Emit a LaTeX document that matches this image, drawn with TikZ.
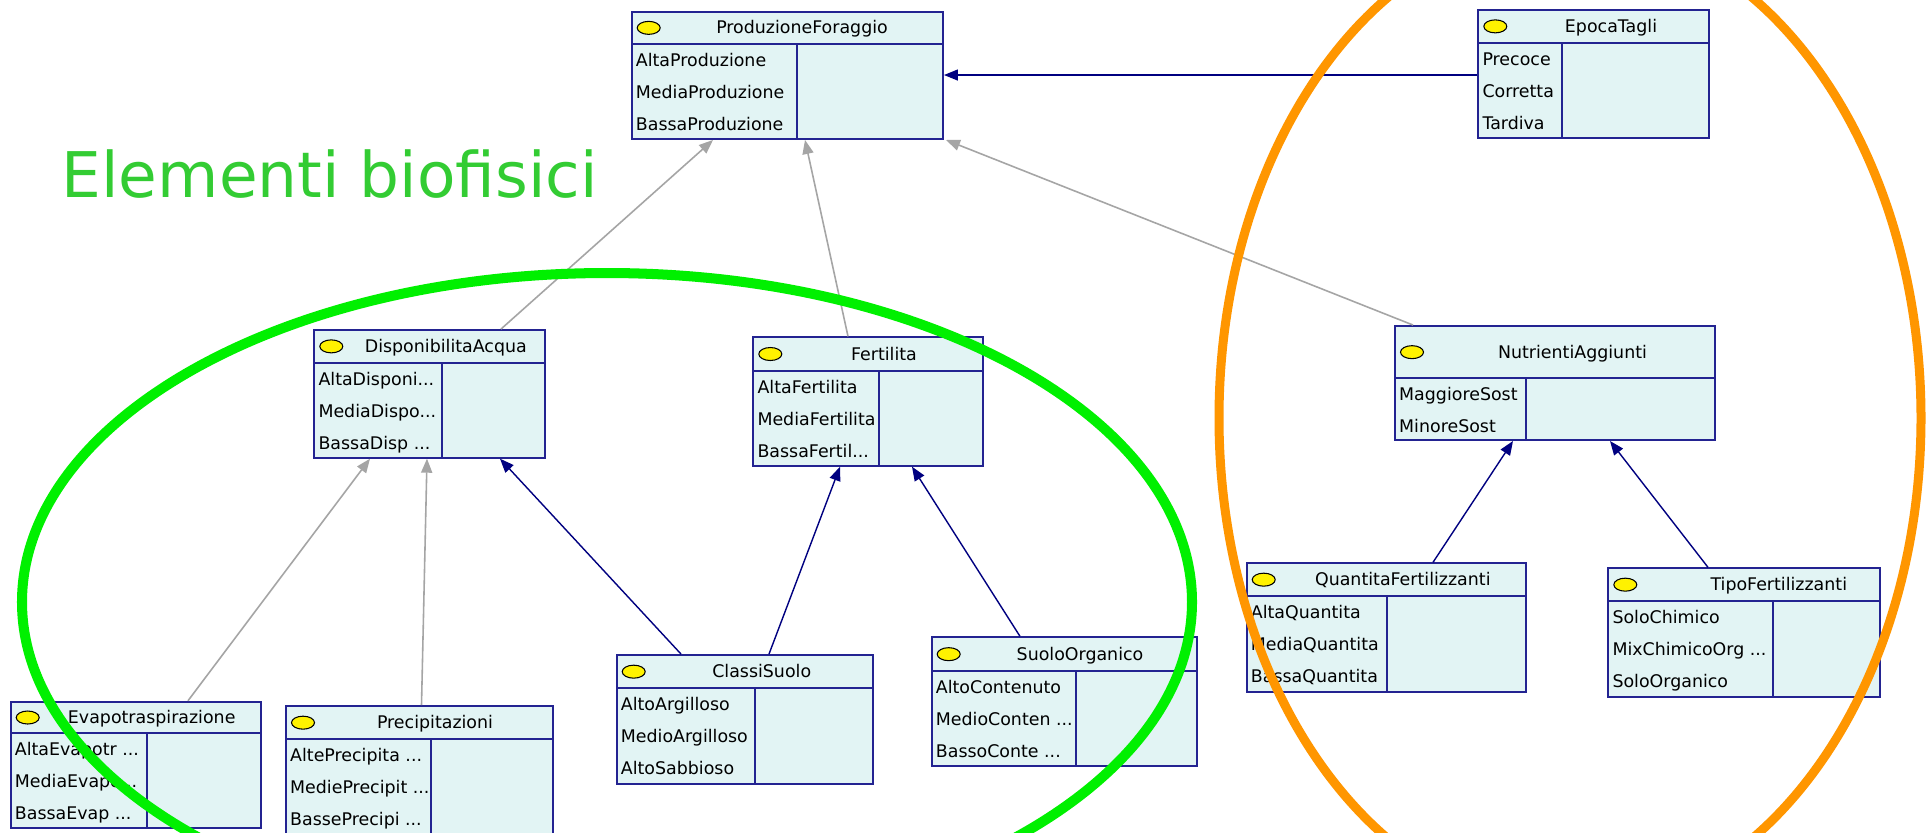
\documentclass[tikz,border=0pt]{standalone}
\usepackage{fontspec}
\setmainfont{DejaVu Sans}
\usetikzlibrary{fit,arrows.meta}
\definecolor{boxfill}{RGB}{226,244,244}
\definecolor{boxline}{RGB}{35,35,145}
\definecolor{navyc}{RGB}{0,0,128}
\definecolor{grayc}{RGB}{165,165,165}
\definecolor{biogreen}{RGB}{51,204,51}
\definecolor{limec}{RGB}{0,240,0}
\definecolor{orangec}{RGB}{255,150,0}
\tikzset{
  cpt/.style={draw=boxline, fill=boxfill, line width=0.55pt, inner sep=0pt},
  cptline/.style={draw=boxline, line width=0.55pt},
  ttl/.style={font=\fontsize{4.95pt}{6pt}\selectfont, anchor=base, inner sep=0pt},
  rowtxt/.style={font=\fontsize{4.95pt}{6pt}\selectfont, anchor=base west, inner sep=0pt},
  navyarr/.style={draw=navyc, line width=0.4pt, -{Triangle[length=0.14cm,width=0.11cm]}},
  grayarr/.style={draw=grayc, line width=0.45pt, -{Triangle[length=0.14cm,width=0.11cm]}},
}
\newcommand\cptbox[9]{%
  \node[cpt, fit={(#2,#3) (#4,#5)}] (#1) {};
  \draw[cptline] (#2,#6) -- (#4,#6);
  \draw[cptline] (#7,#6) -- (#7,#5);
  \filldraw[fill=yellow, draw=black, line width=0.3pt] ({#2+17},{(#3+#6)/2}) ellipse [x radius=11.5, y radius=6.5];
  \node[ttl] (#1-t) at (#8,{(#3+#6)/2+6}) {#9};
}
\newcommand\cptrows[6]{%
  \node[rowtxt] (#1-r1) at ({#2+3.5},{#3+22.5}) {#4};
  \node[rowtxt] (#1-r2) at ({#2+3.5},{#3+54.5}) {#5};
  \node[rowtxt] (#1-r3) at ({#2+3.5},{#3+86.5}) {#6};
}
\begin{document}
\begin{tikzpicture}[x=0.01cm, y=-0.01cm]
\useasboundingbox (0,0) rectangle (1927,832);
\clip (0,0) rectangle (1927,832);
\fill[white] (0,0) rectangle (1927,832);

% boxes
\cptbox{prod}{631.7}{11.7}{943}{139}{44}{796.7}{802}{ProduzioneForaggio}
\cptrows{prod}{631.7}{44}{AltaProduzione}{MediaProduzione}{BassaProduzione}
\cptbox{epoca}{1478.3}{10}{1709}{138}{42.7}{1561.7}{1611}{EpocaTagli}
\cptrows{epoca}{1478.3}{42.7}{Precoce}{Corretta}{Tardiva}
\cptbox{disp}{314.3}{330}{545}{457.7}{362.7}{441.7}{445.8}{DisponibilitaAcqua}
\cptrows{disp}{314.3}{362.7}{AltaDisponi...}{MediaDispo...}{BassaDisp ...}
\cptbox{fert}{753.3}{337.3}{982.7}{465.7}{370.7}{879.3}{884}{Fertilita}
\cptrows{fert}{753.3}{370.7}{AltaFertilita}{MediaFertilita}{BassaFertil...}
\cptbox{nutr}{1395}{326}{1715}{440}{378.3}{1525.7}{1572.5}{NutrientiAggiunti}
\node[rowtxt] (nutr-r1) at (1398.5,400.3) {MaggioreSost};
\node[rowtxt] (nutr-r2) at (1398.5,432.3) {MinoreSost};
\cptbox{evap}{10.7}{701.7}{261}{828.3}{733.3}{146.7}{151.7}{Evapotraspirazione}
\cptrows{evap}{10.7}{733.3}{AltaEvapotr ...}{MediaEvapo...}{BassaEvap ...}
\cptbox{prec}{286}{706}{552.7}{850}{739.3}{430.7}{435}{Precipitazioni}
\cptrows{prec}{286}{739.3}{AltePrecipita ...}{MediePrecipit ...}{BassePrecipi ...}
\cptbox{classi}{616.7}{655}{872.7}{784.3}{688.3}{755}{761.7}{ClassiSuolo}
\cptrows{classi}{616.7}{688.3}{AltoArgilloso}{MedioArgilloso}{AltoSabbioso}
\cptbox{suolo}{931.7}{637.3}{1196.7}{766}{671}{1075.7}{1080}{SuoloOrganico}
\cptrows{suolo}{931.7}{671}{AltoContenuto}{MedioConten ...}{BassoConte ...}
\cptbox{quant}{1246.7}{563.3}{1525.7}{691.7}{596}{1386.7}{1402.8}{QuantitaFertilizzanti}
\cptrows{quant}{1246.7}{596}{AltaQuantita}{MediaQuantita}{BassaQuantita}
\cptbox{tipo}{1608.3}{568.3}{1880}{696.7}{601}{1773.3}{1778.8}{TipoFertilizzanti}
\cptrows{tipo}{1608.3}{601}{SoloChimico}{MixChimicoOrg ...}{SoloOrganico}

% connectors
\draw[navyarr] (epoca.west |- 0,75) -- (prod.east |- 0,75);
\draw[grayarr] (501,0 |- disp.north) -- (713,0 |- prod.south);
\draw[grayarr] (848,0 |- fert.north) -- (805,0 |- prod.south);
\draw[grayarr] (1413,0 |- nutr.north) -- (946,0 |- prod.south);
\draw[grayarr] (188,0 |- evap.north) -- (370,0 |- disp.south);
\draw[grayarr] (421.5,0 |- prec.north) -- (427,0 |- disp.south);
\draw[navyarr] (681,0 |- classi.north) -- (500,0 |- disp.south);
\draw[navyarr] (769,0 |- classi.north) -- (840,0 |- fert.south);
\draw[navyarr] (1020,0 |- suolo.north) -- (912,0 |- fert.south);
\draw[navyarr] (1433,0 |- quant.north) -- (1513,0 |- nutr.south);
\draw[navyarr] (1708,0 |- tipo.north) -- (1610,0 |- nutr.south);

% annotation
\node[anchor=base west, inner sep=0pt, text=biogreen, font=\fontsize{17.9pt}{20pt}\selectfont] (bio) at (61,197) {Elementi biofisici};
\draw[limec, line width=2.85pt] (607,602) ellipse [x radius=585, y radius=329];
\draw[orangec, line width=2.56pt] (1570,418) ellipse [x radius=351, y radius=492];
\end{tikzpicture}
\end{document}
